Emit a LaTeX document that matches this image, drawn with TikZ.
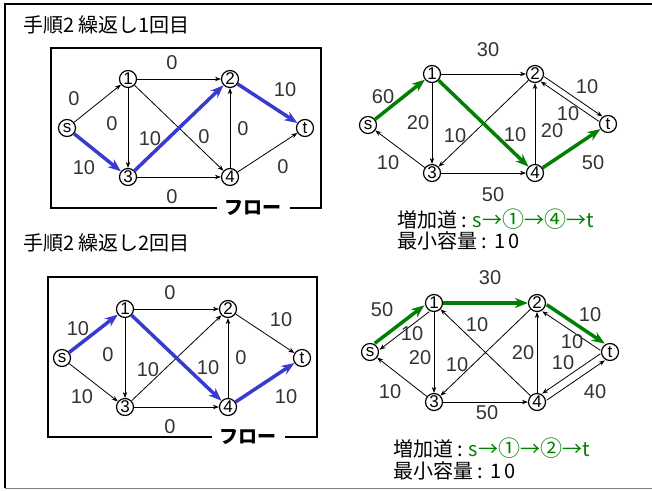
\documentclass[tikz,border=0pt]{standalone}
\usepackage{fontspec}
\setmainfont{Liberation Sans}
\newfontfamily\jp{Noto Sans CJK JP}
\usetikzlibrary{arrows.meta,calc}
\definecolor{myblue}{RGB}{58,58,208}
\definecolor{mygreen}{RGB}{0,128,0}
\definecolor{labgray}{RGB}{51,51,51}
\tikzset{
 nd/.style={circle,draw,line width=1.2pt,fill=white,minimum size=17pt,inner sep=0pt,font=\fontsize{17}{17}\selectfont},
 ln/.style={line width=0.8pt,-{Stealth[length=6pt,width=4.5pt]}},
 fb/.style={line width=3.5pt,myblue,-{Stealth[length=13pt,width=10pt]}},
 fg/.style={line width=3.5pt,mygreen,-{Stealth[length=13pt,width=10pt]}},
 lb/.style={font=\fontsize{20}{20}\selectfont,text=labgray,inner sep=0pt},
 ttl/.style={font=\jp\fontsize{20}{24}\selectfont,anchor=west,inner sep=0pt},
 boxline/.style={line width=1.4pt},
 flow/.style={font=\jp\bfseries\fontsize{19}{19}\selectfont,fill=white,inner xsep=8pt,inner ysep=2pt},
}
\newcommand{\oedge}[6]{\draw[#1] ($(#2)!9pt!(#3)!#4!#5:(#3)$) -- ($(#3)!9pt!(#2)!#4!#6:(#2)$);}
\newcommand{\aug}[2]{増加道\kern4pt:\kern6pt{\color{mygreen}s→{\fontsize{22}{24}\selectfont #1}→{\fontsize{22}{24}\selectfont #2}→t}}
\begin{document}
\begin{tikzpicture}[x=1pt,y=-1pt]
\useasboundingbox (0,0) rectangle (652,490);
% outer frame
\draw[line width=2.5pt] (652,4) -- (5,4) -- (5,488);
\draw[gray,line width=1pt] (5,488) -- (652,488);

% ===== top-left =====
\node[ttl] (tA) at (23,25) {手順2 繰返し1回目};
\draw[boxline] (51,48) rectangle (321,208);
\node[flow] (fA) at (253,208) {フロー};
\node[nd] (As) at (67,128) {s};
\node[nd] (A1) at (128,79) {1};
\node[nd] (A2) at (230,79) {2};
\node[nd] (A3) at (128,177) {3};
\node[nd] (A4) at (230,177) {4};
\node[nd] (At) at (305,128) {t};
\draw[ln] (As) -- (A1);
\draw[ln] (A1) -- (A2);
\draw[ln] (A1) -- (A3);
\draw[ln] (A1) -- (A4);
\draw[ln] (A3) -- (A4);
\draw[ln] (A4) -- (A2);
\draw[ln] (A4) -- (At);
\draw[fb] (As) -- (A3);
\draw[fb] (A3) -- (A2);
\draw[fb] (A2) -- (At);
\node[lb] (la1) at (172,63) {0};
\node[lb] (la2) at (74,99) {0};
\node[lb] (la3) at (84,168) {10};
\node[lb] (la4) at (112,124) {0};
\node[lb] (la5) at (150,139) {10};
\node[lb] (la6) at (204,137) {0};
\node[lb] (la7) at (243,129) {0};
\node[lb] (la8) at (285,90) {10};
\node[lb] (la9) at (283,167) {0};
\node[lb] (la10) at (172,197) {0};

% ===== top-right =====
\node[nd] (Bs) at (368,125) {s};
\node[nd] (B1) at (432,74) {1};
\node[nd] (B2) at (535,74) {2};
\node[nd] (B3) at (432,173) {3};
\node[nd] (B4) at (535,173) {4};
\node[nd] (Bt) at (608,124) {t};
\draw[ln] (B3) -- (Bs);
\draw[ln] (B1) -- (B2);
\draw[ln] (B1) -- (B3);
\draw[ln] (B2) -- (B3);
\draw[ln] (B4) -- (B2);
\draw[ln] (B3) -- (B4);
\oedge{ln}{B2}{Bt}{3pt}{90}{-90}
\oedge{ln}{Bt}{B2}{3pt}{90}{-90}
\draw[fg] (Bs) -- (B1);
\draw[fg] (B1) -- (B4);
\draw[fg] (B4) -- (Bt);
\node[lb] (lb1) at (383,97) {60};
\node[lb] (lb2) at (388,163) {10};
\node[lb] (lb3) at (488,50) {30};
\node[lb] (lb4) at (418,123) {20};
\node[lb] (lb5) at (455,136) {10};
\node[lb] (lb6) at (515,135) {10};
\node[lb] (lb7) at (552,131) {20};
\node[lb] (lb8) at (493,195) {50};
\node[lb] (lb9) at (587,87) {10};
\node[lb] (lb10) at (568,114) {10};
\node[lb] (lb11) at (593,163) {50};
\node[ttl] (pB) at (397,219) {\aug{①}{④}};
\node[ttl] (mB) at (397,241) {最小容量\kern4pt:\kern8pt1\kern3pt0};

% ===== bottom-left =====
\node[ttl] (tC) at (23,243) {手順2 繰返し2回目};
\draw[boxline] (48,277) rectangle (317,437);
\node[flow] (fC) at (248,437) {フロー};
\node[nd] (Cs) at (62,358) {s};
\node[nd] (C1) at (125,309) {1};
\node[nd] (C2) at (228,309) {2};
\node[nd] (C3) at (125,407) {3};
\node[nd] (C4) at (228,407) {4};
\node[nd] (Ct) at (302,358) {t};
\draw[ln] (Cs) -- (C3);
\draw[ln] (C1) -- (C2);
\draw[ln] (C1) -- (C3);
\draw[ln] (C3) -- (C2);
\draw[ln] (C3) -- (C4);
\draw[ln] (C4) -- (C2);
\draw[ln] (C2) -- (Ct);
\draw[fb] (Cs) -- (C1);
\draw[fb] (C1) -- (C4);
\draw[fb] (C4) -- (Ct);
\node[lb] (lc1) at (170,293) {0};
\node[lb] (lc2) at (78,329) {10};
\node[lb] (lc3) at (108,355) {0};
\node[lb] (lc4) at (82,397) {10};
\node[lb] (lc5) at (148,370) {10};
\node[lb] (lc6) at (208,368) {10};
\node[lb] (lc7) at (241,358) {0};
\node[lb] (lc8) at (281,320) {10};
\node[lb] (lc9) at (286,397) {10};
\node[lb] (lc10) at (170,427) {0};

% ===== bottom-right =====
\node[nd] (Ds) at (370,352) {s};
\node[nd] (D1) at (434,303) {1};
\node[nd] (D2) at (537,303) {2};
\node[nd] (D3) at (434,402) {3};
\node[nd] (D4) at (537,402) {4};
\node[nd] (Dt) at (610,352) {t};
\oedge{ln}{D1}{Ds}{4pt}{90}{-90}
\draw[ln] (D4) -- (D1);
\draw[ln] (D1) -- (D3);
\draw[ln] (D2) -- (D3);
\draw[ln] (D3) -- (Ds);
\draw[ln] (D3) -- (D4);
\draw[ln] (D4) -- (D2);
\oedge{ln}{Dt}{D2}{4pt}{90}{-90}
\oedge{ln}{Dt}{D4}{4pt}{-90}{90}
\oedge{ln}{D4}{Dt}{4pt}{-90}{90}
\oedge{fg}{Ds}{D1}{4pt}{90}{-90}
\draw[fg] (D1) -- (D2);
\oedge{fg}{D2}{Dt}{4pt}{90}{-90}
\node[lb] (ld1) at (382,310) {50};
\node[lb] (ld2) at (412,334) {10};
\node[lb] (ld3) at (490,278) {30};
\node[lb] (ld4) at (477,325) {10};
\node[lb] (ld5) at (420,358) {20};
\node[lb] (ld6) at (457,365) {10};
\node[lb] (ld7) at (390,392) {10};
\node[lb] (ld8) at (487,413) {50};
\node[lb] (ld9) at (523,353) {20};
\node[lb] (ld10) at (590,315) {10};
\node[lb] (ld11) at (572,342) {10};
\node[lb] (ld12) at (563,363) {10};
\node[lb] (ld13) at (595,392) {40};
\node[ttl] (pD) at (393,448) {\aug{①}{②}};
\node[ttl] (mD) at (393,471) {最小容量\kern4pt:\kern8pt1\kern3pt0};
\end{tikzpicture}
\end{document}
